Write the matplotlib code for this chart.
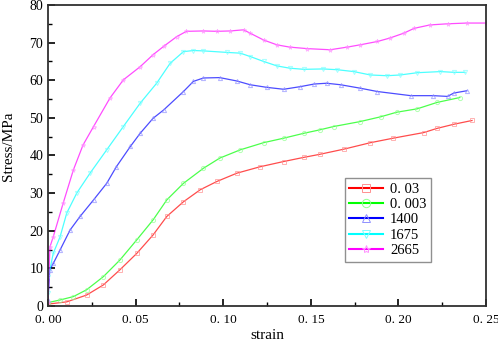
import numpy as np
import matplotlib.pyplot as plt
from matplotlib.ticker import MultipleLocator, FuncFormatter

plt.rcParams['font.family'] = ['Liberation Serif', 'DejaVu Serif']

# 0.03
strain_a = [0, 0.0107, 0.022, 0.0316, 0.041, 0.0507, 0.060, 0.0678, 0.0773, 0.0869,
            0.0964, 0.1078, 0.121, 0.1345, 0.146, 0.155, 0.169, 0.184, 0.197, 0.2145,
            0.222, 0.2316, 0.242]
stress_a = [0.5, 1.1, 2.9, 5.6, 9.6, 14.0, 18.9, 23.8, 27.7, 30.9,
            33.1, 35.3, 37.0, 38.4, 39.5, 40.3, 41.7, 43.4, 44.6, 46.1,
            47.2, 48.3, 49.3]
# 0.003
strain_b = [0, 0.0069, 0.0145, 0.022, 0.0316, 0.041, 0.0507, 0.060, 0.0678, 0.0773,
            0.0887, 0.098, 0.1097, 0.123, 0.1345, 0.146, 0.155, 0.163, 0.178, 0.19,
            0.199, 0.2107, 0.222, 0.235]
stress_b = [0.9, 1.6, 2.5, 4.3, 7.8, 12.2, 17.6, 22.9, 28.2, 32.6,
            36.6, 39.3, 41.5, 43.4, 44.6, 45.9, 46.8, 47.7, 49.0, 50.3,
            51.5, 52.4, 54.1, 55.4]
# 1400
strain_c = [0, 0.001, 0.003, 0.0069, 0.0126, 0.0183, 0.026, 0.0335, 0.039, 0.047,
            0.0526, 0.060, 0.066, 0.0773, 0.083, 0.0887, 0.098, 0.1078, 0.1154, 0.125,
            0.1345, 0.144, 0.152, 0.159, 0.167, 0.178, 0.188, 0.207, 0.220, 0.228,
            0.2316, 0.239]
stress_c = [1.6, 9.6, 11.3, 14.9, 20.2, 23.8, 28.2, 32.6, 37.0, 42.4,
            45.9, 49.9, 52.1, 57.0, 59.7, 60.6, 60.7, 59.8, 58.8, 58.1,
            57.6, 58.3, 59.0, 59.2, 58.8, 57.9, 57.0, 55.9, 55.9, 55.7,
            56.6, 57.2]
# 1675
strain_d = [0, 0.0002, 0.003, 0.0069, 0.0107, 0.0164, 0.024, 0.0335, 0.043, 0.0526,
            0.062, 0.0697, 0.0773, 0.083, 0.0887, 0.102, 0.1097, 0.1154, 0.123, 0.1307,
            0.138, 0.146, 0.157, 0.165, 0.1745, 0.184, 0.1935, 0.201, 0.2107, 0.224,
            0.2316, 0.238]
stress_d = [3.5, 7.8, 14.0, 18.4, 24.7, 30.0, 35.3, 41.5, 47.7, 53.9,
            59.2, 64.5, 67.6, 67.9, 67.8, 67.4, 67.2, 66.3, 65.0, 63.8,
            63.2, 62.9, 63.0, 62.8, 62.3, 61.4, 61.2, 61.4, 62.0, 62.3,
            62.1, 62.1]
# 2665
strain_e = [0, 0.0011, 0.003, 0.0087, 0.0145, 0.020, 0.026, 0.0354, 0.043, 0.0526,
            0.060, 0.066, 0.0735, 0.079, 0.0887, 0.0964, 0.104, 0.1116, 0.1154, 0.123,
            0.1307, 0.138, 0.148, 0.161, 0.1707, 0.178, 0.188, 0.195, 0.203, 0.209,
            0.218, 0.228, 0.239, 0.25]
stress_e = [1.0, 15.7, 18.4, 27.4, 36.2, 42.8, 47.7, 55.3, 60.1, 63.6,
            66.8, 69.0, 71.6, 73.0, 73.1, 73.0, 73.1, 73.4, 72.5, 70.7,
            69.4, 68.8, 68.4, 68.1, 68.8, 69.4, 70.3, 71.2, 72.5, 73.8,
            74.7, 75.0, 75.2, 75.2]

labels = ['0. 03', '0. 003', '1400', '1675', '2665']
colors = ['#FF0000', '#00FF00', '#0000FF', '#00FFFF', '#FF00FF']
light = ['#FF9090', '#90FF90', '#9090FF', '#80FFFF', '#FF90FF']
markers = ['s', 'o', '^', 'v', '*']
data = [(strain_a, stress_a), (strain_b, stress_b), (strain_c, stress_c),
        (strain_d, stress_d), (strain_e, stress_e)]

fig = plt.figure(figsize=(4.98, 3.44), dpi=100)
ax = fig.add_axes([0.0964, 0.1105, 0.8796, 0.875])

for (x, y), lab, c, lc, m in zip(data, labels, colors, light, markers):
    ax.plot(x, y, color=c, lw=0.9, marker=m, markersize=3, markerfacecolor='none',
            markeredgecolor=lc, markeredgewidth=0.7, label=lab, alpha=0.7)

ax.set_xlim(0, 0.25)
ax.set_ylim(0, 80)
ax.xaxis.set_major_locator(MultipleLocator(0.05))
ax.xaxis.set_minor_locator(MultipleLocator(0.025))
ax.yaxis.set_major_locator(MultipleLocator(10))
ax.yaxis.set_minor_locator(MultipleLocator(5))
ax.xaxis.set_major_formatter(FuncFormatter(lambda v, p: f"{v:.2f}".replace(".", ". ")))
ax.tick_params(which='both', direction='in', top=False, right=False, labelsize=10)
ax.tick_params(axis='x', pad=6, labelsize=9.5)
ax.tick_params(which='major', length=5, width=1.2)
ax.tick_params(which='minor', length=3, width=1.0)
for s in ax.spines.values():
    s.set_linewidth(1.3)
    s.set_color('#303030')

ax.set_xlabel('strain', fontsize=11)
ax.set_ylabel('Stress/MPa', fontsize=11)
ax.xaxis.set_label_coords(0.5, -0.075)
ax.yaxis.set_label_coords(-0.076, 0.53)

leg = ax.legend(loc='upper left', bbox_to_anchor=(0.678, 0.425), fontsize=10.5,
                labelspacing=0.15, handlelength=2.3, handletextpad=0.5,
                borderpad=0.3, borderaxespad=0, fancybox=False, markerscale=2.0,
                framealpha=1)
leg.get_frame().set_edgecolor('#909090')
for h in leg.get_lines():
    h.set_alpha(1)
    h.set_linewidth(1.5)

plt.savefig('out.png', dpi=100)
